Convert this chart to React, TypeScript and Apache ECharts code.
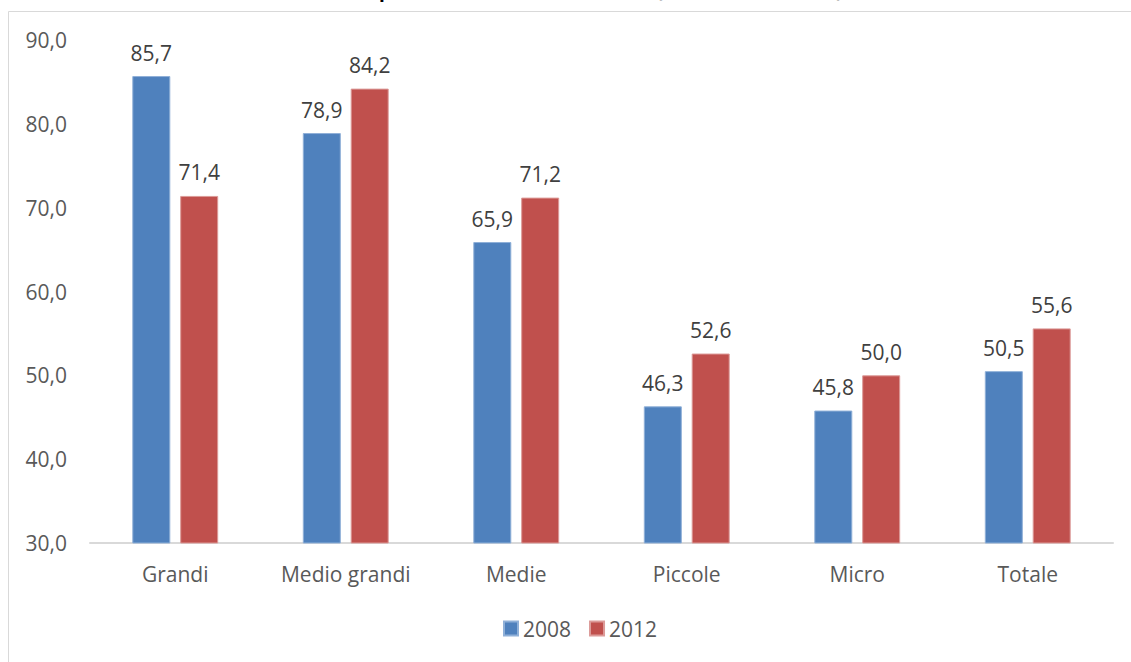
import React, { useEffect, useRef } from "react";
import * as echarts from "echarts";

// Share of enterprises by size class, 2008 vs 2012
const categories = ["Grandi", "Medio grandi", "Medie", "Piccole", "Micro", "Totale"];
const values2008 = [85.7, 78.9, 65.9, 46.3, 45.8, 50.5];
const values2012 = [71.4, 84.2, 71.2, 52.6, 50.0, 55.6];
const seriesNames = ["2008", "2012"];
const titleText = "Imprese con attività innovative (% sul totale classe)";

const FONT = "'Open Sans', 'Noto Sans', sans-serif";
const fmt = (v: number) => v.toFixed(1).replace(".", ",");

export default function App() {
  const ref = useRef<HTMLDivElement>(null);

  useEffect(() => {
    if (!ref.current) return;
    const chart = echarts.init(ref.current, null, { renderer: "svg" });

    const label = {
      show: true,
      position: "top",
      distance: 13,
      color: "#404040",
      fontSize: 21,
      fontFamily: FONT,
      formatter: (p: any) => fmt(p.value),
    };

    chart.setOption({
      animation: false,
      backgroundColor: "#ffffff",
      textStyle: { fontFamily: FONT },
      graphic: [
        {
          type: "rect",
          silent: true,
          shape: { x: 8.5, y: 11.5, width: 1200, height: 700 },
          style: { fill: "none", stroke: "#d9d9d9", lineWidth: 1 },
        },
        {
          type: "text",
          silent: true,
          x: 354,
          y: -1,
          style: {
            text: titleText,
            fontFamily: FONT,
            fontWeight: "bold",
            fontSize: 19,
            fill: "#000000",
            textAlign: "left",
            textVerticalAlign: "bottom",
          },
        },
      ],
      legend: {
        data: seriesNames,
        top: 618,
        left: 503,
        padding: 0,
        itemWidth: 14,
        itemHeight: 14,
        itemGap: 18,
        icon: "rect",
        textStyle: { color: "#595959", fontSize: 21, fontFamily: FONT },
      },
      grid: { left: 90, right: 18, top: 40, bottom: 119, containLabel: false },
      xAxis: {
        type: "category",
        data: categories,
        axisLine: { show: true, lineStyle: { color: "#d9d9d9", width: 2 } },
        axisTick: { show: false },
        axisLabel: { color: "#595959", fontSize: 21, fontFamily: FONT, margin: 20 },
      },
      yAxis: {
        type: "value",
        min: 30,
        max: 90,
        interval: 10,
        axisLine: { show: false },
        axisTick: { show: false },
        splitLine: { show: false },
        axisLabel: {
          color: "#595959",
          fontSize: 21,
          fontFamily: FONT,
          margin: 23,
          formatter: (v: number) => fmt(v),
        },
      },
      series: [
        {
          name: seriesNames[0],
          type: "bar",
          data: values2008,
          barWidth: 38,
          barGap: "26%",
          itemStyle: { color: "#4f81bd", borderColor: "#8fb0d8", borderWidth: 1 },
          label,
        },
        {
          name: seriesNames[1],
          type: "bar",
          data: values2012,
          barWidth: 38,
          barGap: "26%",
          itemStyle: { color: "#c0504d", borderColor: "#dc9a98", borderWidth: 1 },
          label,
        },
      ],
    });

    return () => chart.dispose();
  }, []);

  return (
    <div
      ref={ref}
      style={{ position: "fixed", left: 0, top: 0, width: 1131, height: 662 }}
    />
  );
}
